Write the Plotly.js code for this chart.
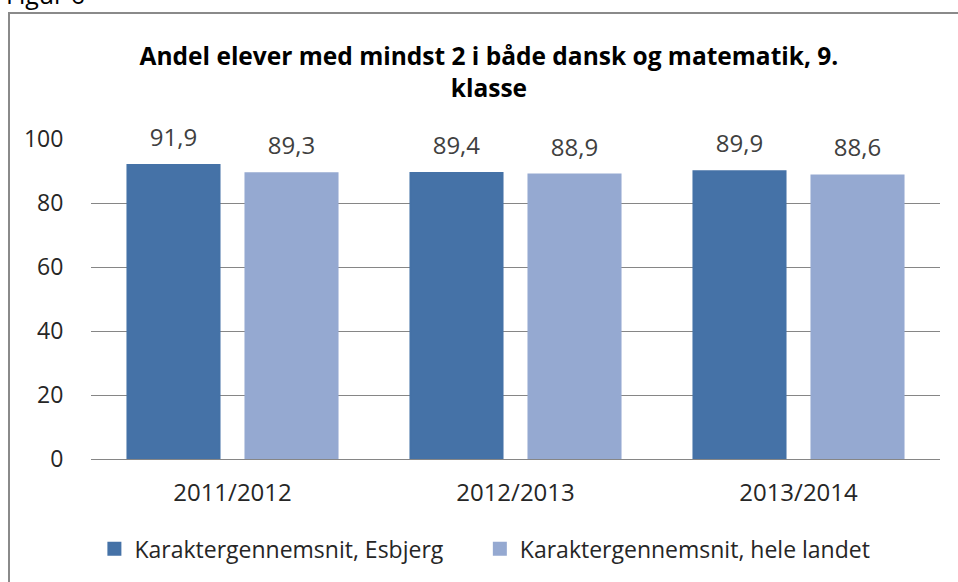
<!DOCTYPE html>
<html>
<head>
<meta charset="utf-8">
<script src="https://cdn.plot.ly/plotly-3.0.1.min.js"></script>
<style>
  html, body { margin: 0; padding: 0; background: #fff; overflow: hidden; }
  #chart { width: 958px; height: 582px; }
  #frame { position: absolute; left: 8px; top: 12px; width: 980px; height: 600px;
           border-left: 2px solid #8a8a8a; border-top: 2px solid #8a8a8a; pointer-events: none; }
</style>
</head>
<body>
<div id="chart"></div>
<div id="frame"></div>
<script>
const categories = ["2011/2012", "2012/2013", "2013/2014"];
const esbjerg = [91.9, 89.4, 89.9];
const heleLandet = [89.3, 88.9, 88.6];
const seriesNames = ["Karaktergennemsnit, Esbjerg", "Karaktergennemsnit, hele landet"];
const yTicks = [0, 20, 40, 60, 80, 100];

const font = "Open Sans, Noto Sans, sans-serif";
// value label: 24px digits on a small base font, with a blank spacer line below
const labelTemplate = "<span style='font-size:24px'>%{y:.1f}</span><br>\u00A0";
const labelFont = { family: font, size: 10, color: "#404040" };
const darkBlue = "#4572A7";
const lightBlue = "#95A9D1";
const legendFont = { family: font, size: 23, color: "#262626" };

const traces = [
  { type: "bar", name: seriesNames[0], x: categories, y: esbjerg, legend: "legend",
    marker: { color: darkBlue, line: { color: darkBlue, width: 2 } },
    texttemplate: labelTemplate, textposition: "outside",
    textfont: labelFont, cliponaxis: false, hoverinfo: "skip" },
  { type: "bar", name: seriesNames[1], x: categories, y: heleLandet, legend: "legend2",
    marker: { color: lightBlue, line: { color: lightBlue, width: 2 } },
    texttemplate: labelTemplate, textposition: "outside",
    textfont: labelFont, cliponaxis: false, hoverinfo: "skip" }
];

const layout = {
  width: 958, height: 582,
  margin: { l: 91, r: 18, t: 139, b: 123 },
  paper_bgcolor: "#fff", plot_bgcolor: "#fff",
  separators: ",.",
  font: { family: font, size: 23, color: "#262626" },
  title: { text: "<b>Andel elever med mindst 2 i både dansk og matematik, 9.<br>klasse</b>",
           font: { family: font, size: 24.5, color: "#000" },
           x: 0.5104, xanchor: "center", y: 0.888, yanchor: "middle" },
  barmode: "group", bargap: 0.166, bargroupgap: 0.22,
  xaxis: { tickfont: { family: font, size: 24, color: "#262626" }, showline: true,
           linecolor: "#868686", linewidth: 1, ticks: "outside", ticklen: 12,
           tickcolor: "rgba(0,0,0,0)", fixedrange: true },
  yaxis: { range: [0, 100], tickvals: yTicks, showgrid: true, gridcolor: "#868686",
           gridwidth: 1, zeroline: true, zerolinecolor: "#868686", ticks: "outside",
           ticklen: 22, tickcolor: "rgba(0,0,0,0)",
           tickfont: { family: font, size: 23, color: "#262626" },
           fixedrange: true },
  showlegend: true,
  legend: { orientation: "h", x: 0.004, xanchor: "left", y: -0.281, yanchor: "middle",
            font: legendFont, itemwidth: 30 },
  legend2: { orientation: "h", x: 0.458, xanchor: "left", y: -0.281, yanchor: "middle",
             font: legendFont, itemwidth: 30 },
  annotations: [
    { text: "Figur 6", xref: "paper", yref: "paper", x: -0.102, xanchor: "left",
      y: 1.453, yanchor: "middle", showarrow: false, font: { family: font, size: 25, color: "#000" } }
  ]
};

Plotly.newPlot("chart", traces, layout, { displayModeBar: false, staticPlot: true });
</script>
</body>
</html>
